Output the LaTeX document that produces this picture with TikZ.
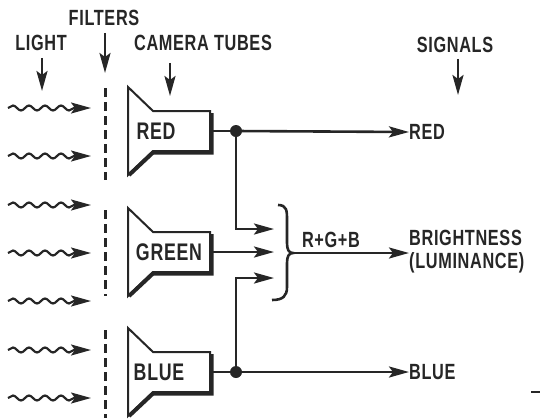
\documentclass[tikz,border=0pt]{standalone}
\usepackage{fontspec}
\setmainfont{Liberation Sans}[FakeStretch=0.74,LetterSpace=3]
\usetikzlibrary{
    arrows.meta,
    decorations.pathmorphing
}

\begin{document}
\begin{tikzpicture}[x=1pt,y=-1pt,
    ink/.style={draw=black!85,line width=2.6pt},
    tip/.style={-{Stealth[length=20pt,width=11pt,inset=4pt]}},
    lbl/.style={font=\fontsize{22}{23}\selectfont\bfseries,text=black!85,inner sep=0pt},
    big/.style={lbl,font=\fontsize{24}{25}\selectfont\bfseries},
    tube/.pic={
        \draw[ink,line width=2pt] (128,-44) -- (153,-20) -- (210,-20)
            -- (210,20) -- (153,20) -- (128,44) -- cycle;
        \draw[ink,line width=4pt] (211.5,-18) -- (211.5,21.5) -- (153,21.5) -- (129,44);
        \coordinate (-out) at (212,0);
    }
]
\useasboundingbox (0,0) rectangle (540,418);

% Headings
\node[lbl] (light) at (41,43) {LIGHT};
\node[lbl] (filters) at (104,18) {FILTERS};
\node[lbl] (camera) at (203,43) {CAMERA TUBES};
\node[lbl] (signals) at (455,45) {SIGNALS};
\coordinate (camtip) at (170,96);
\coordinate (sigtip) at (458,95);

\draw[ink,tip] (light.south) ++(1,7) -- ++(0,33);
\draw[ink,tip] (filters.south) ++(1,7) -- ++(0,40);
\draw[ink,tip] (camera.south -| camtip) ++(0,12) -- (camtip);
\draw[ink,tip] (signals.south -| sigtip) ++(0,6) -- (sigtip);

% Light rays
\foreach \y in {108,156,205,253,301,350,398}
    \draw[ink,line width=2.2pt,tip,decorate,
          decoration={snake,amplitude=2.5,segment length=16,post length=16}]
          (8,\y) -- (91,\y);

% Filters
\draw[ink,line width=3pt,dash pattern=on 9 off 5] (105,88) -- (105,180);
\draw[ink,line width=3pt,dash pattern=on 9 off 5] (105,210) -- (105,296);
\draw[ink,line width=3pt,dash pattern=on 9 off 5] (105,330) -- (105,418);

% Camera tubes
\pic (rt) at (0,131) {tube};
\pic (gt) at (0,252) {tube};
\pic (bt) at (0,372) {tube};
\node[big] (red) at (156,131) {RED};
\node[big] (green) at (169,252) {GREEN};
\node[big] (blue) at (159,372) {BLUE};

% Junctions and adder
\coordinate (rdot) at (236,131);
\coordinate (bdot) at (236,372);
\coordinate (in1) at (274,229);
\coordinate (in2) at (274,252);
\coordinate (in3) at (274,278);
\coordinate (sum) at (293,253);
\fill[black!85] (rdot) circle (6);
\fill[black!85] (bdot) circle (6);

\draw[ink] (278,205) .. controls (287,205) and (287,211) .. (287,220)
    -- (287,243) .. controls (287,250) and (289,253) .. (sum)
    .. controls (289,253) and (287,256) .. (287,263)
    -- (287,287) .. controls (287,296) and (283,300) .. (272,300);
\node[lbl] (rgb) at (331,240) {R+G+B};

% Outputs
\node[lbl,anchor=west] (redsig) at (409,132) {RED};
\node[lbl,anchor=west,align=left] (bright) at (409,252) {BRIGHTNESS\\(LUMINANCE)};
\node[lbl,anchor=west] (bluesig) at (409,372) {BLUE};

% Connections
\draw[ink] (rt-out) -- (rdot);
\draw[ink] (bt-out) -- (bdot);
\draw[ink,tip] (rdot) -- (redsig.west);
\draw[ink,tip] (bdot) -- (bluesig.west);
\draw[ink,tip] (rdot) |- (in1);
\draw[ink,tip] (gt-out) -- (in2);
\draw[ink,tip] (bdot) |- (in3);
\draw[ink,tip] (sum) -- (bright.west |- sum);

% Edge mark
\draw[ink] (531,392) -- (540,392);

\end{tikzpicture}
\end{document}
